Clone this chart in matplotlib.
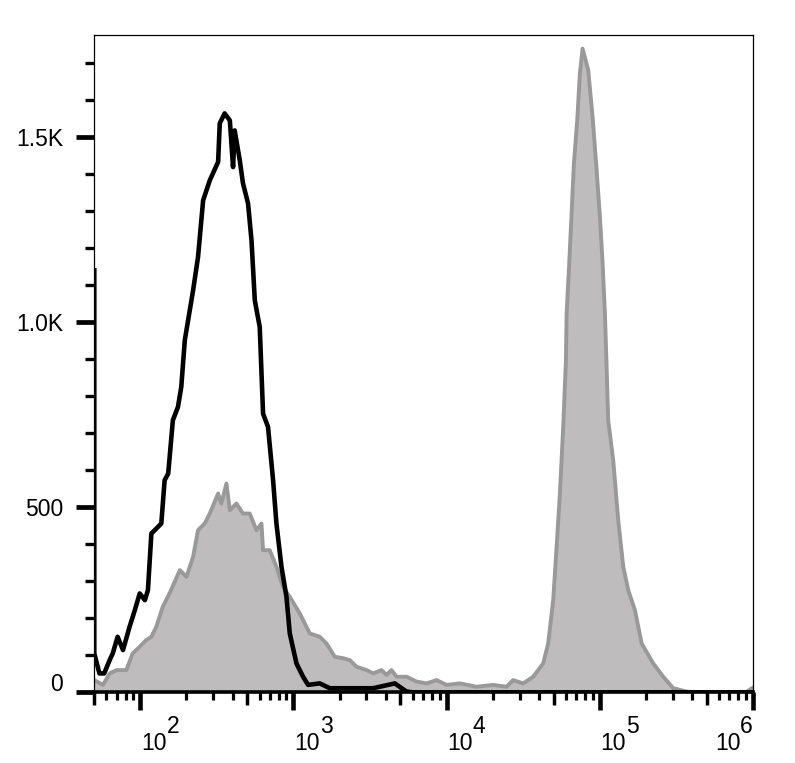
import matplotlib.pyplot as plt
from matplotlib.ticker import FixedLocator, NullLocator
import numpy as np

plt.rcParams['font.family'] = ['Liberation Sans', 'DejaVu Sans']

# isotype control (black outline)
ctrl_x = [50, 50, 54, 58, 63, 66, 71, 77, 85, 92, 99, 107, 112, 118, 137, 144, 152,
          163, 176, 185, 195, 205, 221, 238, 257, 284, 322, 330, 355, 384, 403, 413,
          446, 468, 505, 532, 559, 602, 633, 682, 736, 774, 835, 900, 946, 1046, 1155,
          1246, 1486, 1727, 2453, 3313, 4592, 5478, 6000, 1e6]
ctrl_y = [1140, 105, 51, 51, 87, 105, 150, 114, 177, 222, 267, 249, 276, 429, 456, 573, 591,
          735, 771, 825, 951, 1005, 1086, 1176, 1329, 1383, 1433, 1537, 1564, 1545, 1419, 1518,
          1437, 1375, 1321, 1221, 1059, 987, 753, 717, 573, 456, 339, 258, 159, 78, 42,
          20, 24, 11, 11, 11, 24, 2, 0, 0]

# stained sample (grey filled)
stain_x = [50, 57, 63, 70, 81, 89, 99, 109, 118, 127, 140, 155, 181, 200, 221, 238, 263,
           284, 322, 338, 365, 384, 424, 468, 518, 573, 618, 633, 700, 774, 855, 946,
           1100, 1278, 1486, 1643, 1862, 2110, 2333, 2581, 3000, 3313, 3760, 4054, 4371,
           4712, 5478, 6366, 7401, 8603, 10000, 12216, 15708, 20168, 24670, 27246, 31673,
           36810, 42800, 46130, 49740, 52360, 55020, 57830, 60230, 60870, 63290, 65610,
           67920, 71380, 74330, 77410, 84240, 89990, 95580, 100460, 104620, 108300,
           111100, 113800, 122700, 132300, 142700, 153800, 170100, 188200, 224000,
           260400, 302700, 370400, 420000, 900000, 1e6]
stain_y = [33, 20, 51, 60, 60, 105, 123, 141, 150, 177, 231, 267, 330, 312, 366, 438, 456,
           483, 537, 510, 564, 492, 510, 483, 483, 438, 456, 384, 384, 339, 285, 258,
           213, 159, 150, 132, 96, 92, 87, 69, 60, 51, 60, 47, 60,
           42, 42, 29, 24, 33, 20, 24, 15, 20, 15, 33, 24,
           42, 78, 132, 249, 393, 537, 717, 897, 1023, 1159, 1294,
           1429, 1545, 1672, 1739, 1681, 1554, 1411, 1284, 1159, 1023,
           879, 735, 627, 465, 339, 276, 222, 132, 78,
           42, 11, 2, 0, 0, 12]

decades = [1e2, 1e3, 1e4, 1e5, 1e6]
exponents = ['2', '3', '4', '5', '6']
y_major = [0, 500, 1000, 1500]
y_labels = ['', '500', '1.0K', '1.5K']

fig = plt.figure(figsize=(7.95, 7.63), dpi=100)
ax = fig.add_axes([94.3 / 795, 70.7 / 763, 658.4 / 795, 657 / 763])

ax.fill_between(stain_x, stain_y, color='#bebcbc', lw=0, zorder=1)
ax.plot(stain_x, stain_y, color='#999999', lw=2.8, zorder=2)
ax.plot(ctrl_x, ctrl_y, color='black', lw=3.3, zorder=3)

ax.set_xscale('log')
ax.set_xlim(50, 1e6)
ax.set_ylim(0, 1775)

# x ticks: decades, 2-9 minors, and mid-length ticks at 5x
minors = [k * 10.0 ** n for n in range(1, 6) for k in (2, 3, 4, 6, 7, 8, 9)
          if 50 < k * 10.0 ** n < 1e6]
ax.xaxis.set_major_locator(FixedLocator(decades))
ax.xaxis.set_minor_locator(FixedLocator(minors))
ax.tick_params(axis='x', which='major', length=13, width=3.3, labelbottom=False)
ax.tick_params(axis='x', which='minor', length=6, width=2.3)

sec = ax.secondary_xaxis('bottom')
sec.xaxis.set_major_locator(FixedLocator([50, 500, 5000, 50000, 500000]))
sec.xaxis.set_minor_locator(NullLocator())
sec.tick_params(length=9.5, width=2.5, labelbottom=False)
sec.spines['bottom'].set_visible(False)

# y ticks
ax.set_yticks(y_major, y_labels)
ax.yaxis.set_minor_locator(FixedLocator([v for v in range(100, 1775, 100) if v % 500]))
ax.tick_params(axis='y', which='major', length=13, width=3.4, pad=9.5, labelsize=16.5)
ax.tick_params(axis='y', which='minor', length=6.5, width=2.4)
ax.annotate('0', xy=(0, 0), xycoords='axes fraction', xytext=(-22.5, 5.5),
            textcoords='offset points', ha='right', va='center', fontsize=16.5)

# decade labels with full-size raised exponent
for i, (d, e) in enumerate(zip(decades, exponents)):
    dx, ex = (0.7, 19) if i < len(decades) - 1 else (-27, -9)
    ax.annotate('10', xy=(d, 0), xycoords=('data', 'axes fraction'), xytext=(dx, -41.5),
                textcoords='offset points', ha='left', va='baseline', fontsize=16.5,
                annotation_clip=False)
    ax.annotate(e, xy=(d, 0), xycoords=('data', 'axes fraction'), xytext=(ex, -29.5),
                textcoords='offset points', ha='left', va='baseline', fontsize=16.5,
                annotation_clip=False)

for s in ['top', 'right', 'left']:
    ax.spines[s].set_linewidth(0.9)
ax.spines['bottom'].set_linewidth(2.6)

fig.savefig('out.png', dpi=100)
